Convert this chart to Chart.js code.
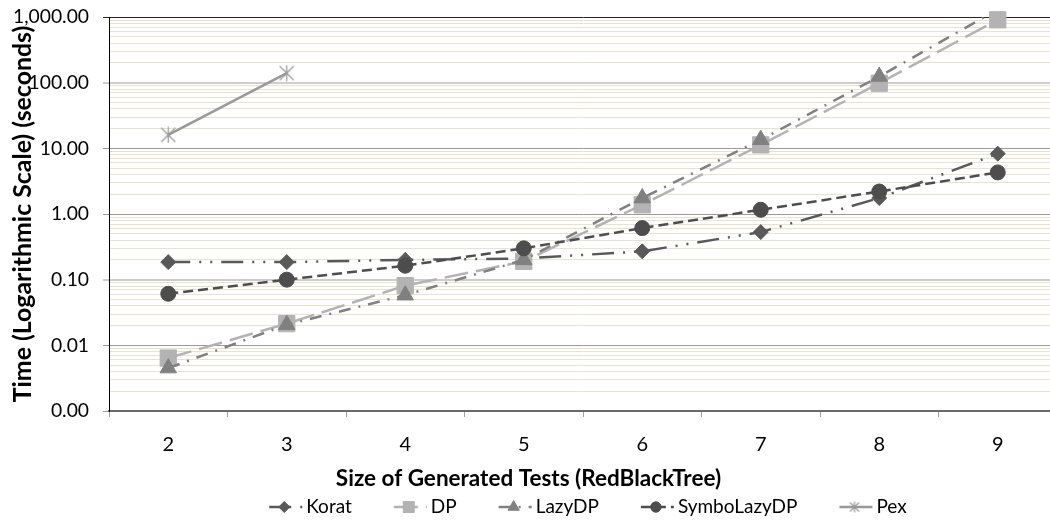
<!DOCTYPE html>
<html><head><meta charset="utf-8">
<script src="https://cdn.jsdelivr.net/npm/chart.js@4.4.0/dist/chart.umd.min.js"></script>
<style>
html,body{margin:0;padding:0;background:#fff;overflow:hidden;width:1050px;height:523px;}
#wrap{width:1050px;height:523px;overflow:hidden;position:relative;}
#c{position:absolute;left:0;top:0;width:1057px;height:523px;max-width:none;}
</style></head><body>
<div id="wrap"><canvas id="c" width="1057" height="523"></canvas></div>
<script>
// ---- data ----
const categories = ['2','3','4','5','6','7','8','9'];
const korat       = [0.185, 0.185, 0.20, 0.21, 0.27, 0.53, 1.75, 8.3];
const dp          = [0.0064, 0.0214, 0.081, 0.19, 1.38, 11.3, 98, 906];
const lazyDP      = [0.0045, 0.0206, 0.058, 0.20, 1.75, 13.5, 124, 1300];
const symboLazyDP = [0.061, 0.10, 0.163, 0.30, 0.61, 1.16, 2.2, 4.3];
const pex         = [16, 140, null, null, null, null, null, null];
const yTickValues = [0.001, 0.01, 0.1, 1, 10, 100, 1000];
const yTickLabels = ['0.00', '0.01', '0.10', '1.00', '10.00', '100.00', '1,000.00'];
const seriesNames = ['Korat', 'DP', 'LazyDP', 'SymboLazyDP', 'Pex'];
const xTitle = 'Size of Generated Tests (RedBlackTree)';
const yTitle = 'Time (Logarithmic Scale) (seconds)';

// ---- styles ----
const FONT = 'Lato, "Liberation Sans", sans-serif';
Chart.defaults.font.family = FONT;

function starCanvas(size, color, lw) {
  const c = document.createElement('canvas'); c.width = size; c.height = size;
  const g = c.getContext('2d'); g.strokeStyle = color; g.lineWidth = lw;
  const a = 1.5, b = size - 1.5, h = size / 2;
  g.beginPath();
  g.moveTo(a, a); g.lineTo(b, b);
  g.moveTo(b, a); g.lineTo(a, b);
  g.moveTo(h, 0.5); g.lineTo(h, size - 0.5);
  g.stroke();
  return c;
}
const pexStar = starCanvas(17, '#999999', 1.3);
const pexStarSmall = starCanvas(12, '#999999', 1.2);

const styles = [
  {color:'#595959', dash:[22,9,2,9,2,9], point:'rectRot', r:7.5, lr:5.5},
  {color:'#b3b3b3', dash:[24,8], point:'rect', r:11.5, lr:7.8},
  {color:'#808080', dash:[12,8,2,8], point:'triangle', r:9.5, lr:6.5},
  {color:'#4d4d4d', dash:[10,5], point:'circle', r:7.5, lr:5.2},
  {color:'#999999', dash:[], point:pexStar, r:8, lr:6}
];
const seriesData = [korat, dp, lazyDP, symboLazyDP, pex];

const datasets = seriesNames.map((name, i) => ({
  label: name, data: seriesData[i],
  borderColor: styles[i].color, backgroundColor: styles[i].color,
  borderWidth: 2.5, borderDash: styles[i].dash, borderCapStyle: 'butt',
  pointStyle: styles[i].point, pointRadius: styles[i].r, pointHoverRadius: styles[i].r,
  pointBackgroundColor: styles[i].color, pointBorderColor: styles[i].color, pointBorderWidth: 1,
  tension: 0, spanGaps: false, order: seriesNames.length - i, clip: (i === 2) ? 0 : false
}));

function isMajor(v) { const l = Math.log10(v); return Math.abs(l - Math.round(l)) < 1e-6; }
function gridColor(v) {
  if (!isMajor(v)) return '#e7e3d0';
  const l = Math.round(Math.log10(v));
  if (l === 3) return '#262626';
  if (l === 2 || l === -1) return '#cdcdcd';
  return '#9a9a9a';
}
function gridWidth(v) {
  if (!isMajor(v)) return 1;
  const l = Math.round(Math.log10(v));
  if (l === 2 || l === -1) return 2;
  return 1;
}

// legend drawn as a plugin (line sample + marker + text)
const LEGEND = { font: '19px ' + FONT, y: 507, center: 588, line: 33, textGap: 4, itemGap: 42, markerAt: 15 };
const excelLegend = {
  id: 'excelLegend',
  afterDraw(chart) {
    const g = chart.ctx;
    g.save();
    g.font = LEGEND.font;
    const widths = seriesNames.map(n => g.measureText(n).width);
    const total = widths.reduce((a, w) => a + LEGEND.line + LEGEND.textGap + w, 0) + LEGEND.itemGap * (seriesNames.length - 1);
    let x = LEGEND.center - total / 2;
    const y = LEGEND.y;
    seriesNames.forEach((name, i) => {
      const st = styles[i];
      g.strokeStyle = st.color; g.lineWidth = 2.5; g.lineCap = 'butt'; g.setLineDash(st.dash);
      g.beginPath(); g.moveTo(x, y); g.lineTo(x + LEGEND.line, y); g.stroke();
      g.setLineDash([]);
      const mx = x + LEGEND.markerAt;
      if (i === 4) {
        g.drawImage(pexStarSmall, mx - pexStarSmall.width / 2, y - pexStarSmall.height / 2);
      } else {
        g.fillStyle = st.color; g.strokeStyle = st.color; g.lineWidth = 1;
        Chart.helpers.drawPoint(g, { pointStyle: st.point, radius: st.lr, rotation: 0, borderWidth: 1 }, mx, y);
      }
      g.fillStyle = '#000'; g.textAlign = 'left'; g.textBaseline = 'middle';
      g.fillText(name, x + LEGEND.line + LEGEND.textGap, y);
      x += LEGEND.line + LEGEND.textGap + widths[i] + LEGEND.itemGap;
    });
    g.restore();
  }
};

new Chart(document.getElementById('c'), {
  type: 'line',
  data: { labels: categories, datasets },
  plugins: [excelLegend],
  options: {
    responsive: false, animation: false, events: [],
    layout: { autoPadding: false, padding: { top: 17, bottom: 29.5, left: 0, right: 0 } },
    scales: {
      x: {
        type: 'category', offset: true,
        grid: { offset: true, drawOnChartArea: false, drawTicks: true, tickLength: 6, color: '#a0a0a0', lineWidth: 1 },
        border: { display: true, color: '#6a6a6a', width: 2 },
        ticks: { font: { size: 20 }, color: '#000', padding: 16, maxRotation: 0, autoSkip: false },
        afterFit: s => { s.height = 44; s.paddingLeft = 0; s.paddingRight = 0; }
      },
      y: {
        type: 'logarithmic', min: yTickValues[0], max: yTickValues[yTickValues.length - 1],
        afterBuildTicks: s => {
          const t = [];
          yTickValues.forEach((v, i) => {
            t.push({ value: v });
            if (i < yTickValues.length - 1) for (let k = 2; k <= 9; k++) t.push({ value: v * k });
          });
          s.ticks = t;
        },
        afterFit: s => { s.width = 109; s.paddingTop = 0; s.paddingBottom = 0; },
        ticks: {
          autoSkip: false, font: { size: 19.3 }, color: '#000', padding: 14,
          callback: (v) => { const i = yTickValues.findIndex(t => Math.abs(t - v) / t < 1e-6); return i >= 0 ? yTickLabels[i] : ''; }
        },
        grid: {
          color: c => gridColor(c.tick.value), lineWidth: c => gridWidth(c.tick.value),
          tickColor: c => isMajor(c.tick.value) ? gridColor(c.tick.value) : 'rgba(0,0,0,0)',
          tickWidth: c => gridWidth(c.tick.value), tickLength: 6, drawTicks: true
        },
        border: { display: true, color: '#000', width: 1 },
        title: { display: true, text: yTitle, font: { size: 24.9, weight: 'bold' }, color: '#000', padding: { top: 8.5, bottom: 0 } }
      }
    },
    plugins: {
      tooltip: { enabled: false },
      legend: { display: false },
      title: { display: true, position: 'bottom', text: xTitle, font: { size: 22.5, weight: 'bold' }, color: '#000', padding: { top: 10.5, bottom: 1 } }
    }
  }
});
</script>
</body></html>
